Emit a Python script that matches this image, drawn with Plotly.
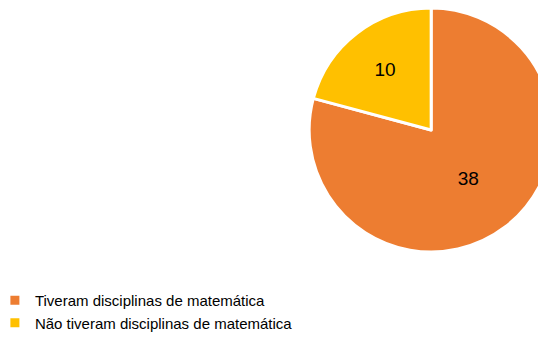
import plotly.graph_objects as go

labels = ["Tiveram disciplinas de matemática", "Não tiveram disciplinas de matemática"]
values = [38, 10]
colors = ["#ED7D31", "#FFC000"]

fig = go.Figure(go.Pie(
    labels=labels,
    values=values,
    sort=False,
    direction="clockwise",
    rotation=0,
    marker=dict(colors=colors, line=dict(color="white", width=3)),
    textinfo="value",
    textposition="inside",
    insidetextfont=dict(family="Liberation Sans, Arial, sans-serif", size=19, color="black"),
    domain=dict(x=[0.55, 1.0], y=[1 - 244/340, 1.0]),
    hoverinfo="label+value",
))

fig.update_layout(
    width=546, height=340,
    margin=dict(l=0, r=0, t=0, b=0, autoexpand=False),
    paper_bgcolor="white",
    plot_bgcolor="white",
    showlegend=True,
    legend=dict(
        x=-0.024, y=1 - 276/340, xanchor="left", yanchor="top",
        font=dict(family="Liberation Sans, Arial, sans-serif", size=15, color="black"),
        bgcolor="rgba(0,0,0,0)",
        tracegroupgap=0,
    ),
)

fig.write_html("out.html")
